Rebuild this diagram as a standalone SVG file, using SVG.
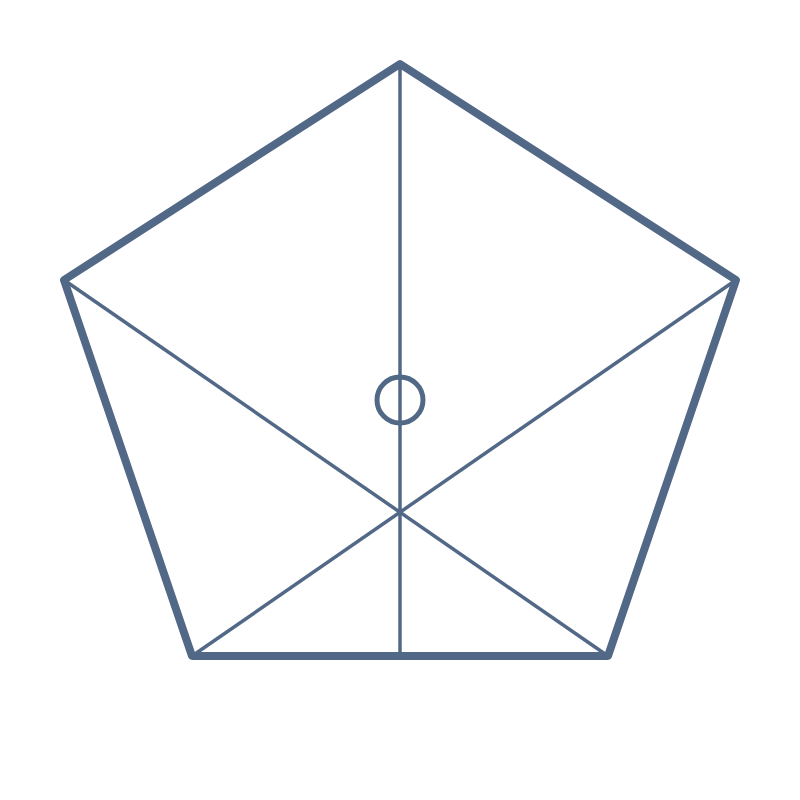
<svg xmlns="http://www.w3.org/2000/svg" width="800" height="800" viewBox="0 0 800 800">
<style>
.outer{fill:none;stroke:#526887;stroke-width:8;stroke-linejoin:round}
.inner{fill:none;stroke:#526887;stroke-width:3.5}
.ring{fill:none;stroke:#526887;stroke-width:5}
</style>
<rect width="800" height="800" fill="#ffffff"/>
<g id="connectors">
<line class="inner" x1="400" y1="64" x2="400" y2="656"/>
<line class="inner" x1="64" y1="280" x2="608" y2="656"/>
<line class="inner" x1="736" y1="280" x2="192" y2="656"/>
</g>
<g id="pentagon">
<polygon class="outer" points="400,64 736,280 608,656 192,656 64,280"/>
</g>
<g id="center">
<circle class="ring" cx="400" cy="400" r="23"/>
</g>
</svg>
